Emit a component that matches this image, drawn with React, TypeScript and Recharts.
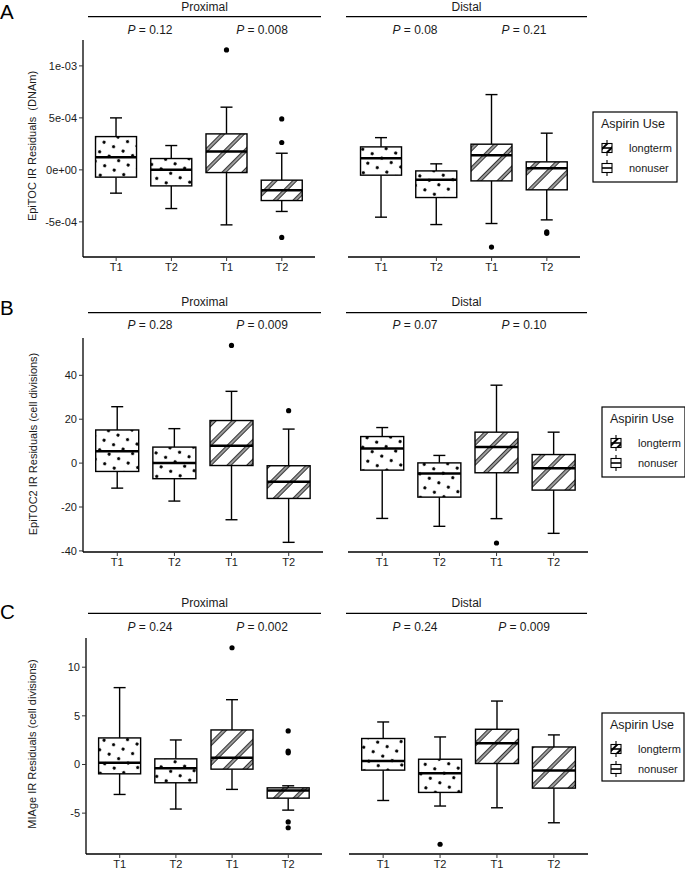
import React from 'react';
import { ComposedChart, Bar, XAxis, YAxis } from 'recharts';

const FONT = '"Liberation Sans", Arial, Helvetica, sans-serif';

const categories = ['T1', 'T2', 'T1', 'T2'];
const aspirinGroups = ['nonuser', 'nonuser', 'longterm', 'longterm'];
const legendItems = ['longterm', 'nonuser'];

// each box: [lower whisker, Q1, median, Q3, upper whisker]
const epitocProximal = [
  [-2.24e-4, -0.7e-4, 1.22e-4, 3.2e-4, 5.0e-4],
  [-3.72e-4, -1.54e-4, 0, 1.09e-4, 2.34e-4],
  [-5.29e-4, -0.26e-4, 1.76e-4, 3.46e-4, 6.03e-4],
  [-4.0e-4, -2.95e-4, -1.95e-4, -0.99e-4, 1.6e-4],
];
const epitocProximalOutliers = [[], [], [1.154e-3], [4.9e-4, 2.63e-4, -6.5e-4]];
const epitocDistal = [
  [-4.55e-4, -0.51e-4, 1.12e-4, 2.21e-4, 3.1e-4],
  [-5.26e-4, -2.66e-4, -0.96e-4, -0.1e-4, 0.58e-4],
  [-5.16e-4, -1.06e-4, 1.41e-4, 2.47e-4, 7.24e-4],
  [-4.81e-4, -1.92e-4, 0.16e-4, 0.77e-4, 3.53e-4],
];
const epitocDistalOutliers = [[], [], [-7.43e-4], [-5.95e-4, -6.1e-4]];

const epitoc2Proximal = [
  [-11.4, -3.8, 5.4, 15.1, 25.7],
  [-17.3, -7.1, 0, 7.3, 15.7],
  [-25.8, -1.1, 7.9, 19.4, 32.7],
  [-36.1, -16.1, -8.5, -1.2, 15.5],
];
const epitoc2ProximalOutliers = [[], [], [53.6], [23.9]];
const epitoc2Distal = [
  [-25.2, -3.2, 6.6, 12.1, 16.2],
  [-28.8, -15.5, -4.7, 0.1, 3.5],
  [-25.3, -4.4, 7.3, 14.1, 35.5],
  [-32, -12.3, -2.3, 3.9, 14.1],
];
const epitoc2DistalOutliers = [[], [], [-36.4], []];

const miageProximal = [
  [-3.08, -0.96, 0.17, 2.73, 7.9],
  [-4.58, -1.88, -0.38, 0.58, 2.52],
  [-2.56, -0.48, 0.68, 3.55, 6.66],
  [-4.69, -3.46, -2.67, -2.4, -2.19],
];
const miageProximalOutliers = [[], [], [12.0], [3.45, 1.37, 1.2, -5.9, -6.5]];
const miageDistal = [
  [-3.7, -0.58, 0.37, 2.67, 4.37],
  [-4.27, -2.87, -0.89, 0.54, 2.83],
  [-4.45, 0.1, 2.18, 3.62, 6.52],
  [-5.99, -2.43, -0.62, 1.8, 3.04],
];
const miageDistalOutliers = [[], [-8.2], [], []];

const epitocTicks = [-5e-4, 0, 5e-4, 1e-3];
const epitoc2Ticks = [-40, -20, 0, 20, 40];
const miageTicks = [-5, 0, 5, 10];

const epitocP = { proximal: ['0.12', '0.008'], distal: ['0.08', '0.21'] };
const epitoc2P = { proximal: ['0.28', '0.009'], distal: ['0.07', '0.10'] };
const miageP = { proximal: ['0.24', '0.002'], distal: ['0.24', '0.009'] };

const sciFormat = (v: number) => {
  if (v === 0) return '0e+00';
  const [m, e] = v.toExponential(0).split('e');
  const sign = e[0];
  const digits = e.slice(1).padStart(2, '0');
  return `${m}e${sign}${digits}`;
};

const toRows = (boxes: number[][], outliers: number[][]) =>
  boxes.map((b, i) => {
    const all = [b[0], b[4], ...outliers[i]];
    return {
      slot: i,
      group: aspirinGroups[i],
      lower: b[0],
      q1: b[1],
      median: b[2],
      q3: b[3],
      upper: b[4],
      outliers: outliers[i],
      extent: [Math.min(...all), Math.max(...all)],
    };
  });

const panels = [
  {
    letter: 'A', letterY: 19,
    title: 'EpiTOC IR Residuals  (DNAm)', titleX: 32, titleY: 146,
    domain: [-8.38e-4, 1.249e-3], ticks: epitocTicks, fmt: sciFormat,
    top: 40, bottom: 257, prox: [83, 315], dist: [348, 580],
    stripY: 11, lineY: 16.7, pY: 34,
    legend: { x: 593, y: 112, w: 84, h: 70 },
    proxRows: toRows(epitocProximal, epitocProximalOutliers),
    distRows: toRows(epitocDistal, epitocDistalOutliers),
    pvals: epitocP,
  },
  {
    letter: 'B', letterY: 315,
    title: 'EpiTOC2 IR Residuals (cell divisions)', titleX: 33, titleY: 444,
    domain: [-40.5, 57], ticks: epitoc2Ticks, fmt: (v: number) => String(v),
    top: 338, bottom: 552, prox: [83, 323], dist: [348, 588],
    stripY: 306, lineY: 312.7, pY: 329,
    legend: { x: 602, y: 407, w: 83, h: 70 },
    proxRows: toRows(epitoc2Proximal, epitoc2ProximalOutliers),
    distRows: toRows(epitoc2Distal, epitoc2DistalOutliers),
    pvals: epitoc2P,
  },
  {
    letter: 'C', letterY: 619,
    title: 'MIAge IR Residuals (cell divisions)', titleX: 32, titleY: 744,
    domain: [-9.2, 13.0], ticks: miageTicks, fmt: (v: number) => String(v),
    top: 638, bottom: 854, prox: [86, 322], dist: [349, 588],
    stripY: 607, lineY: 613.3, pY: 631,
    legend: { x: 602, y: 713, w: 82, h: 68 },
    proxRows: toRows(miageProximal, miageProximalOutliers),
    distRows: toRows(miageDistal, miageDistalOutliers),
    pvals: miageP,
  },
];

const BoxShape = (props: any) => {
  const { x, y, width, height, payload } = props;
  if (!payload) return null;
  const top = Math.min(y, y + height);
  const bottom = Math.max(y, y + height);
  const [lo, hi] = payload.extent;
  const py = (v: number) => top + ((hi - v) / (hi - lo)) * (bottom - top);
  const cx = x + width / 2;
  const fill = payload.group === 'longterm' ? 'url(#stripes)' : 'url(#dots)';
  const cap = 6;
  const sw = 1.4;
  return (
    <g>
      <line x1={cx} x2={cx} y1={py(payload.upper)} y2={py(payload.q3)} stroke="#000" strokeWidth={sw} />
      <line x1={cx} x2={cx} y1={py(payload.q1)} y2={py(payload.lower)} stroke="#000" strokeWidth={sw} />
      <line x1={cx - cap} x2={cx + cap} y1={py(payload.upper)} y2={py(payload.upper)} stroke="#000" strokeWidth={sw} />
      <line x1={cx - cap} x2={cx + cap} y1={py(payload.lower)} y2={py(payload.lower)} stroke="#000" strokeWidth={sw} />
      <rect x={x} y={py(payload.q3)} width={width} height={py(payload.q1) - py(payload.q3)} fill={fill} stroke="#000" strokeWidth={sw} />
      <line x1={x} x2={x + width} y1={py(payload.median)} y2={py(payload.median)} stroke="#000" strokeWidth={2.5} />
      {payload.outliers.map((o: number, i: number) => (
        <circle key={i} cx={cx} cy={py(o)} r={2.6} fill="#000" />
      ))}
    </g>
  );
};

function Facet({ rows, span, top, bottom, domain, ticks, fmt, showY }: any) {
  const [x0, x1] = span;
  const unit = (x1 - x0) / 4.2;
  const pad = 0.1 * unit;
  const left = showY ? 0 : x0 - 5;
  const chartTop = top - 10;
  const width = x1 + 5 - left;
  const height = bottom + 30 - chartTop;
  return (
    <div style={{ position: 'absolute', left, top: chartTop }}>
      <ComposedChart
        width={width}
        height={height}
        data={rows}
        margin={{ top: 10, right: 5, bottom: 10, left: showY ? 0 : 5 }}
      >
        <XAxis
          dataKey="slot"
          type="category"
          interval={0}
          tickFormatter={(v: number) => categories[v]}
          padding={{ left: pad, right: pad }}
          height={20}
          tickSize={4}
          axisLine={{ stroke: '#000', strokeWidth: 1.3 }}
          tickLine={{ stroke: '#333', strokeWidth: 1 }}
          tick={{ fontSize: 11, fill: '#1a1a1a' }}
        />
        <YAxis
          type="number"
          hide={!showY}
          width={showY ? x0 : 0}
          domain={domain}
          ticks={ticks}
          allowDataOverflow
          tickFormatter={fmt}
          tickSize={4}
          axisLine={{ stroke: '#000', strokeWidth: 1.3 }}
          tickLine={{ stroke: '#333', strokeWidth: 1 }}
          tick={{ fontSize: 11, fill: '#1a1a1a' }}
        />
        <Bar dataKey="extent" barSize={Math.round(unit * 0.75)} shape={BoxShape} isAnimationActive={false} />
      </ComposedChart>
    </div>
  );
}

const LegendIcon = ({ x, y, group }: { x: number; y: number; group: string }) => (
  <g>
    <line x1={x + 5} x2={x + 5} y1={y - 8} y2={y + 8} stroke="#000" strokeWidth={1.1} />
    <rect x={x} y={y - 4.5} width={10} height={9} fill={group === 'longterm' ? 'url(#stripesSmall)' : '#fff'} stroke="#000" strokeWidth={1.1} />
    <line x1={x} x2={x + 10} y1={y} y2={y} stroke="#000" strokeWidth={1.6} />
  </g>
);

export default function App() {
  return (
    <div style={{ position: 'absolute', left: 0, top: 0, width: 685, height: 869, background: '#fff', fontFamily: FONT, overflow: 'hidden' }}>
      {panels.map((p) => (
        <React.Fragment key={p.letter}>
          <Facet rows={p.proxRows} span={p.prox} top={p.top} bottom={p.bottom} domain={p.domain} ticks={p.ticks} fmt={p.fmt} showY />
          <Facet rows={p.distRows} span={p.dist} top={p.top} bottom={p.bottom} domain={p.domain} ticks={p.ticks} fmt={p.fmt} showY={false} />
          <div
            style={{
              position: 'absolute',
              left: p.titleX,
              top: p.titleY,
              transform: 'translate(-50%, -50%) rotate(-90deg)',
              whiteSpace: 'pre',
              fontSize: 11,
              color: '#1a1a1a',
            }}
          >
            {p.title}
          </div>
        </React.Fragment>
      ))}
      <svg width={685} height={869} style={{ position: 'absolute', left: 0, top: 0, pointerEvents: 'none' }} fontFamily={FONT}>
        <defs>
          <pattern id="stripes" patternUnits="userSpaceOnUse" width={14} height={14} patternTransform="rotate(-45)">
            <rect width={14} height={14} fill="#fff" />
            <line x1={0} x2={14} y1={7} y2={7} stroke="#000" strokeWidth={3.6} />
            <line x1={0} x2={14} y1={7} y2={7} stroke="#cfcfcf" strokeWidth={1.5} />
          </pattern>
          <pattern id="stripesSmall" patternUnits="userSpaceOnUse" width={6} height={6} patternTransform="rotate(-45)">
            <rect width={6} height={6} fill="#fff" />
            <line x1={0} x2={6} y1={3} y2={3} stroke="#000" strokeWidth={2} />
          </pattern>
          <pattern id="dots" patternUnits="userSpaceOnUse" width={10.5} height={10.5} patternTransform="rotate(25)">
            <rect width={10.5} height={10.5} fill="#fff" />
            <circle cx={5.25} cy={5.25} r={1.6} fill="#000" />
          </pattern>
        </defs>
        {panels.map((p) => (
          <g key={p.letter}>
            <text x={0} y={p.letterY} fontSize={20.5} fill="#000">{p.letter}</text>
            <text x={204.5} y={p.stripY} fontSize={12} textAnchor="middle" fill="#1a1a1a">Proximal</text>
            <line x1={88} x2={321} y1={p.lineY} y2={p.lineY} stroke="#000" strokeWidth={1.2} />
            <text x={466.5} y={p.stripY} fontSize={12} textAnchor="middle" fill="#1a1a1a">Distal</text>
            <line x1={346} x2={587} y1={p.lineY} y2={p.lineY} stroke="#000" strokeWidth={1.2} />
            {[150, 262].map((cx, i) => (
              <text key={'p' + i} x={cx} y={p.pY} fontSize={12} textAnchor="middle" fill="#1a1a1a">
                <tspan fontStyle="italic">P</tspan> = {p.pvals.proximal[i]}
              </text>
            ))}
            {[415, 524].map((cx, i) => (
              <text key={'d' + i} x={cx} y={p.pY} fontSize={12} textAnchor="middle" fill="#1a1a1a">
                <tspan fontStyle="italic">P</tspan> = {p.pvals.distal[i]}
              </text>
            ))}
            <rect x={p.legend.x} y={p.legend.y} width={p.legend.w} height={p.legend.h} fill="#fff" stroke="#000" strokeWidth={1.2} />
            <text x={p.legend.x + 8} y={p.legend.y + 16} fontSize={12.5} fill="#1a1a1a">Aspirin Use</text>
            {legendItems.map((g, i) => (
              <g key={g}>
                <LegendIcon x={p.legend.x + 9} y={p.legend.y + 36 + i * 20} group={g} />
                <text x={p.legend.x + 36} y={p.legend.y + 40 + i * 20} fontSize={11} fill="#1a1a1a">{g}</text>
              </g>
            ))}
          </g>
        ))}
      </svg>
    </div>
  );
}
